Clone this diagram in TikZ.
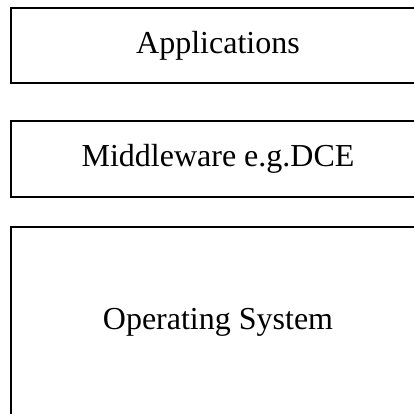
\documentclass[tikz,border=0pt]{standalone}
\usepackage{fontspec}
\setmainfont{Liberation Serif}
\begin{document}
\begin{tikzpicture}[x=1pt,y=1pt,
  layer/.style={draw=black, line width=1.6pt, minimum width=414pt, inner sep=0pt,
    font=\fontsize{32}{38}\selectfont, text=black}]
\useasboundingbox (0,0) rectangle (414,-413);
\begin{scope}
\clip (0,0) rectangle (414,-413);
\node[layer, minimum height=75pt] (app) at (218,-45.5) {Applications};
\node[layer, minimum height=76pt] (mid) at (218,-159) {Middleware e.g.DCE};
\node[layer, minimum height=190pt] (os) at (218,-322) {Operating System};
\end{scope}
\end{tikzpicture}
\end{document}
